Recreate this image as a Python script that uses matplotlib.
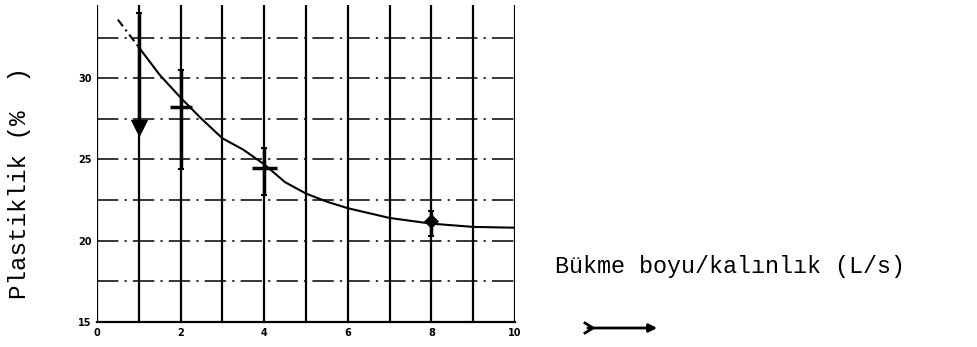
import matplotlib.pyplot as plt
import numpy as np
from matplotlib.patches import FancyArrowPatch
from matplotlib.lines import Line2D

# curve
curve_x = [0.5, 1, 1.5, 2, 2.5, 3, 3.5, 4, 4.5, 5, 5.5, 6, 7, 8, 9, 10]
curve_y = [33.6, 31.9, 30.2, 28.8, 27.5, 26.3, 25.6, 24.7, 23.6, 22.9, 22.4, 22.0, 21.4, 21.05, 20.85, 20.8]

# measured points (mean, low, high)
pt_x = [1, 2, 4, 8]
pt_mean = [27.0, 28.2, 24.5, 21.2]
pt_low = [26.8, 24.4, 22.8, 20.3]
pt_high = [34.0, 30.5, 25.7, 21.8]

x_ticks = [0, 2, 4, 6, 8, 10]
y_ticks = [15, 20, 25, 30]

mono = 'Liberation Mono'

fig = plt.figure(figsize=(9.77, 3.47), dpi=100)
ax = fig.add_axes([97/977, 1 - 322/347, (515 - 97)/977, 317/347])
ax.set_xlim(0, 10)
ax.set_ylim(15, 34.5)

# grid: solid verticals, dash-dot horizontals
for xv in range(0, 11):
    ax.axvline(xv, color='black', lw=1.6, zorder=1)
for yv in np.arange(17.5, 33, 2.5):
    ax.axhline(yv, color='black', lw=1.1, ls=(0, (14, 4, 1.5, 4)), zorder=1)

for s in ['top', 'right', 'left']:
    ax.spines[s].set_visible(False)
ax.spines['bottom'].set_linewidth(1.6)

# fitted curve, dashed at the start
ax.plot(curve_x[:2], curve_y[:2], color='black', lw=1.5, ls=(0, (4, 2, 1, 2)), zorder=3)
ax.plot(curve_x[1:], curve_y[1:], color='black', lw=1.5, zorder=3)

mean = np.array(pt_mean)
yerr = [mean - np.array(pt_low), np.array(pt_high) - mean]
ax.errorbar(pt_x, pt_mean, yerr=yerr, fmt='none', ecolor='black', elinewidth=2.5,
            capsize=2, capthick=1.5, zorder=4)
markers = ['v', '_', '_', 'D']
sizes = [8, 16, 18, 5]
for xv, yv, m, ms in zip(pt_x, pt_mean, markers, sizes):
    ax.plot(xv, yv, marker=m, ms=ms, mew=2.5, color='black', zorder=5)

ax.set_xticks(x_ticks)
ax.set_yticks(y_ticks)
ax.tick_params(length=0, labelsize=7, pad=4)
for lab in ax.get_xticklabels() + ax.get_yticklabels():
    lab.set_fontweight('bold')
    lab.set_family('DejaVu Sans')

fig.text(20/977, 1 - 183/347, 'Plastiklik (%  )', rotation=90, family=mono,
         fontsize=17.5, ha='center', va='center')
fig.text(555/977, 1 - 266/347, 'Bükme boyu/kalınlık (L/s)', family=mono,
         fontsize=16.8, ha='left', va='center')

arrow = FancyArrowPatch((585/977, 1 - 328/347), (660/977, 1 - 328/347),
                        transform=fig.transFigure, arrowstyle='-|>', mutation_scale=12,
                        lw=2, color='black')
fig.patches.append(arrow)
fig.lines.append(Line2D([585/977, 593/977, 585/977], [1 - 323/347, 1 - 328/347, 1 - 333/347],
                        transform=fig.transFigure, color='black', lw=2))

fig.savefig('out.png', dpi=100)
